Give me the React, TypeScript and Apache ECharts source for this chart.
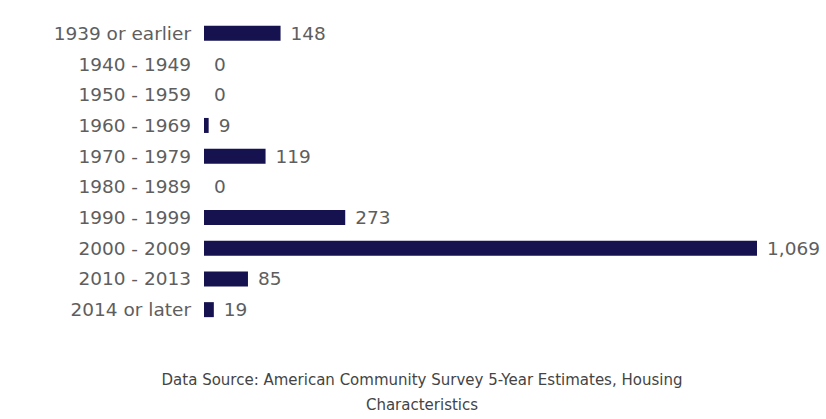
import React, { useEffect, useRef } from "react";
import * as echarts from "echarts";

const categories = [
  "1939 or earlier",
  "1940 - 1949",
  "1950 - 1959",
  "1960 - 1969",
  "1970 - 1979",
  "1980 - 1989",
  "1990 - 1999",
  "2000 - 2009",
  "2010 - 2013",
  "2014 or later",
];
const values = [148, 0, 0, 9, 119, 0, 273, 1069, 85, 19];
const footerLines = [
  "Data Source: American Community Survey 5-Year Estimates, Housing",
  "Characteristics",
];

export default function App() {
  const ref = useRef<HTMLDivElement>(null);
  useEffect(() => {
    if (!ref.current) return;
    const chart = echarts.init(ref.current, null, { renderer: "svg" });
    chart.setOption({
      animation: false,
      backgroundColor: "#ffffff",
      grid: { left: 204, right: 69, top: 18, bottom: 94, containLabel: false },
      xAxis: {
        type: "value",
        min: 0,
        max: 1069,
        show: false,
      },
      yAxis: {
        type: "category",
        data: categories,
        inverse: true,
        axisLine: { show: false },
        axisTick: { show: false },
        splitLine: { show: false },
        axisLabel: {
          color: "#5e5e5e",
          fontFamily: "DejaVu Sans",
          fontSize: 18.5,
          margin: 13,
        },
      },
      series: [
        {
          type: "bar",
          data: values,
          barWidth: 15,
          itemStyle: { color: "#15124f" },
          label: {
            show: true,
            position: "right",
            distance: 10,
            color: "#5e5e5e",
            fontFamily: "DejaVu Sans",
            fontSize: 18.5,
            formatter: (p: any) => Number(p.value).toLocaleString("en-US"),
          },
        },
      ],
      graphic: footerLines.map((t, i) => ({
        type: "text",
        x: 422,
        y: 380 + i * 25,
        style: {
          text: t,
          fill: "#444444",
          fontFamily: "DejaVu Sans",
          fontSize: 15,
          textAlign: "center",
          textVerticalAlign: "middle",
        },
      })),
    });
    return () => chart.dispose();
  }, []);
  return (
    <div
      ref={ref}
      style={{ position: "absolute", left: 0, top: 0, width: 826, height: 419 }}
    />
  );
}
